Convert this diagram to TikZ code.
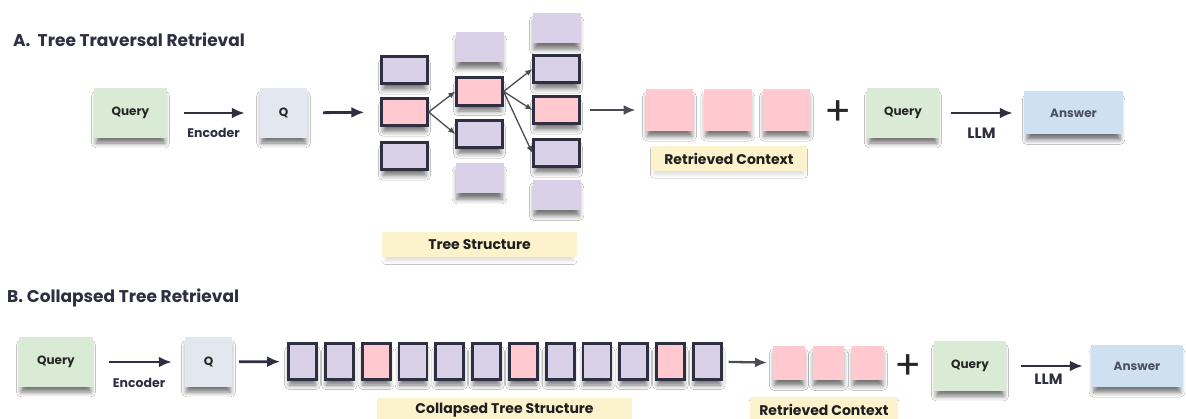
\documentclass[tikz,border=0pt]{standalone}
\usepackage{fontspec}
\setmainfont{Poppins}
\usepackage{xcolor}
\usepackage{tikz}
\usetikzlibrary{positioning, arrows.meta, shadows.blur}
\definecolor{ink}{rgb}{0.18,0.19,0.26}
\definecolor{qgreen}{rgb}{0.85,0.92,0.83}
\definecolor{qgray}{rgb}{0.89,0.91,0.94}
\definecolor{ablue}{rgb}{0.81,0.88,0.95}
\definecolor{pnk}{rgb}{1.00,0.79,0.81}
\definecolor{lav}{rgb}{0.85,0.82,0.91}
\definecolor{tagyel}{rgb}{0.99,0.95,0.80}
\definecolor{arrgray}{rgb}{0.29,0.30,0.33}

\begin{document}
\begin{tikzpicture}[
  x=1pt, y=-1pt, text=ink,
  shd/.style={blur shadow={shadow xshift=0pt, shadow yshift=-7pt,
              shadow blur radius=5pt, shadow opacity=55, shadow scale=0.94}},
  lshd/.style={blur shadow={shadow xshift=0pt, shadow yshift=-4pt,
              shadow blur radius=4pt, shadow opacity=14, shadow scale=0.96}},
  box/.style={rectangle, inner sep=0pt, shd,
              font=\fontsize{12}{14}\selectfont\bfseries},
  qry/.style={box, fill=qgreen, minimum width=73pt, minimum height=50pt, text=black!85},
  enc/.style={box, fill=qgray, minimum width=47pt, minimum height=50pt, text=black!85},
  ans/.style={box, fill=ablue, minimum width=99pt, minimum height=43pt, text=ink!85},
  tbox/.style={rectangle, draw=ink, line width=2.8pt, fill=lav,
               minimum width=45.5pt, minimum height=27.5pt, shd},
  tbare/.style={rectangle, fill=lav, minimum width=48pt, minimum height=30pt, shd},
  cbox/.style={rectangle, draw=ink, line width=2.8pt, fill=lav,
               minimum width=28pt, minimum height=36pt, shd},
  rbox/.style={rectangle, fill=pnk, minimum width=47.5pt, minimum height=42pt, shd},
  rboxs/.style={rectangle, fill=pnk, minimum width=31.5pt, minimum height=34pt, shd},
  tag/.style={rectangle, fill=tagyel, minimum height=25pt, inner sep=0pt, lshd,
              text=black!88, font=\fontsize{14}{16}\selectfont\bfseries},
  ttl/.style={inner sep=0pt, font=\fontsize{17}{20}\selectfont\bfseries},
  lbl/.style={inner sep=0pt, font=\fontsize{12.5}{14}\selectfont\bfseries},
  plus/.style={inner sep=0pt, font=\fontsize{40}{40}\selectfont, text=black!85},
  arr/.style={-{Latex[length=13pt, width=11pt]}, line width=2.8pt, draw=ink},
  garr/.style={-{Latex[length=12pt, width=10pt]}, line width=2.3pt, draw=arrgray},
  tarr/.style={-{Latex[length=7pt, width=6pt]}, line width=1.3pt, draw=arrgray}
]
\useasboundingbox (0,0) rectangle (1186,419);
\fill[white] (0,0) rectangle (1186,419);

% A. tree traversal
\node[ttl, anchor=base west] (ta) at (13,47) {A.~~Tree Traversal Retrieval};
\node[qry] (qa) at (130.5,113) {Query};
\node[enc] (va) at (283.5,113) {Q};

\node[tbox] (t1a) at (404.5,70) {};
\node[tbox, fill=pnk] (t1b) at (404.5,112) {};
\node[tbox] (t1c) at (404.5,156) {};
\node[tbare] (t2a) at (479.5,47.5) {};
\node[tbox, fill=pnk] (t2b) at (479.5,91.5) {};
\node[tbox] (t2c) at (479.5,134) {};
\node[tbare] (t2d) at (479.5,178.5) {};
\node[tbare] (t3a) at (556.5,28.5) {};
\node[tbox] (t3b) at (556.5,69) {};
\node[tbox, fill=pnk] (t3c) at (556.5,110) {};
\node[tbox] (t3d) at (556.5,153) {};
\node[tbare] (t3e) at (556.5,195) {};
\node[tag, minimum width=195pt] (tsa) at (479.5,245) {Tree Structure};

\node[rbox] (ra1) at (669.5,110) {};
\node[rbox, right=10.5pt of ra1] (ra2) {};
\node[rbox, right=10.5pt of ra2] (ra3) {};
\node[tag, minimum width=156pt] (rca) at (729,158.5) {Retrieved Context};
\node[plus] (pa) at (838,113) {+};
\node[qry, minimum width=72pt] (qa2) at (903,113) {Query};
\node[ans] (aa) at (1073.5,113) {Answer};

\draw[arr, shorten <=17pt, shorten >=15pt] (qa) -- node[lbl, below=14pt] {Encoder} (va);
\draw[arr, shorten <=16pt, shorten >=16pt] (va) -- (t1b);
\draw[tarr] (t1b.east) -- (t2b.west);
\draw[tarr] (t1b.east) -- (t2c.west);
\draw[tarr] (t2b.east) -- (t3b.west);
\draw[tarr] (t2b.east) -- (t3c.west);
\draw[tarr] (t2b.east) -- (t3d.west);
\draw[garr, shorten <=9pt, shorten >=10pt] (t3c) -- (ra1);
\draw[arr, shorten <=12pt, shorten >=11pt] (qa2) -- node[lbl, below=14pt, font=\fontsize{15}{17}\selectfont\bfseries] {LLM} (aa);

% B. collapsed tree
\node[ttl, anchor=base west] (tb) at (7,303) {B. Collapsed Tree Retrieval};
\node[qry, minimum width=74pt] (qb) at (56,362) {Query};
\node[enc] (vb) at (208.5,362) {Q};

\node[cbox] (c1) at (302.5,361.5) {};
\node[cbox, right=6pt of c1] (c2) {};
\node[cbox, fill=pnk, right=6pt of c2] (c3) {};
\node[cbox, right=6pt of c3] (c4) {};
\node[cbox, right=6pt of c4] (c5) {};
\node[cbox, right=6pt of c5] (c6) {};
\node[cbox, fill=pnk, right=6pt of c6] (c7) {};
\node[cbox, right=6pt of c7] (c8) {};
\node[cbox, right=6pt of c8] (c9) {};
\node[cbox, right=6pt of c9] (c10) {};
\node[cbox, fill=pnk, right=6pt of c10] (c11) {};
\node[cbox, right=6pt of c11] (c12) {};
\node[tag, minimum width=255pt] (tsb) at (504.5,410.5) {Collapsed Tree Structure};

\node[rboxs] (rb1) at (789,363) {};
\node[rboxs, right=7.5pt of rb1] (rb2) {};
\node[rboxs, right=7.5pt of rb2] (rb3) {};
\node[tag, minimum width=148pt] (rcb) at (824,409.5) {Retrieved Context};
\node[plus] (pb) at (908,367) {+};
\node[qry, minimum width=72pt] (qb2) at (970,366) {Query};
\node[ans, minimum width=92pt, minimum height=42pt] (ab) at (1137,366) {Answer};

\draw[arr, shorten <=16pt, shorten >=13pt] (qb) -- node[lbl, below=15pt] {Encoder} (vb);
\draw[arr, shorten <=7pt, shorten >=7pt] (vb) -- (c1);
\draw[garr, shorten <=6pt, shorten >=6pt] (c12) -- (rb1);
\draw[arr, shorten <=15pt, shorten >=8pt] (qb2) -- node[lbl, below=7pt, font=\fontsize{15}{17}\selectfont\bfseries] {LLM} (ab);
\end{tikzpicture}
\end{document}
